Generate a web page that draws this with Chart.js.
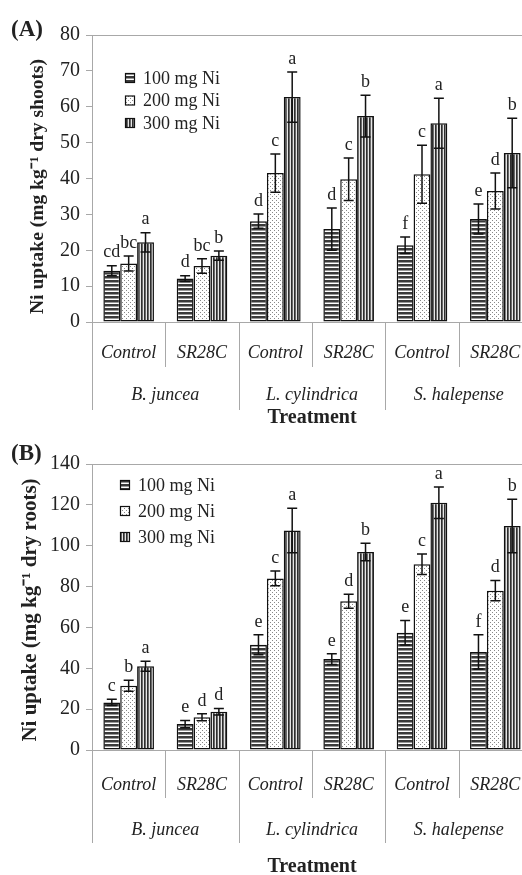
<!DOCTYPE html>
<html>
<head>
<meta charset="utf-8">
<script src="https://cdn.jsdelivr.net/npm/chart.js@4.4.0/dist/chart.umd.min.js"></script>
<style>
  html, body { margin: 0; padding: 0; background: #fff; overflow: hidden; }
  #page { position: relative; width: 522px; height: 875px; overflow: hidden; }
  .panel { position: absolute; left: 0; }
  .panel canvas { display: block; }
  .tag { position: absolute; left: 11px; font: bold 23px "Liberation Serif", serif; color: #222; line-height: 1; }
</style>
</head>
<body>
<div id="page">
  <div class="panel" style="top:0"><canvas id="shoots" width="540" height="435"></canvas></div>
  <div class="panel" style="top:440px"><canvas id="roots" width="540" height="445"></canvas></div>
  <div class="tag" style="top:17px">(A)</div>
  <div class="tag" style="top:441px">(B)</div>
</div>
<script>
// --- data ---
const treatments = ['Control', 'SR28C', 'Control', 'SR28C', 'Control', 'SR28C'];
const species = ['B. juncea', 'L. cylindrica', 'S. halepense'];
const doses = ['100 mg Ni', '200 mg Ni', '300 mg Ni'];

// (A) shoots, mg/kg
const shoots100 = [14.3, 12.1, 28.1, 25.9, 21.4, 28.7];
const shoots200 = [16.3, 15.6, 41.5, 39.8, 41.2, 36.5];
const shoots300 = [22.2, 18.5, 62.7, 57.4, 55.4, 47.1];
const shootsErr100 = [1.4, 0.8, 2.0, 5.9, 2.3, 4.2];
const shootsErr200 = [2.1, 2.0, 5.3, 5.9, 8.1, 5.0];
const shootsErr300 = [2.7, 1.3, 7.0, 5.8, 7.0, 9.7];
const shootsLet100 = ['cd', 'd', 'd', 'd', 'f', 'e'];
const shootsLet200 = ['bc', 'bc', 'c', 'c', 'c', 'd'];
const shootsLet300 = ['a', 'b', 'a', 'b', 'a', 'b'];

// (B) roots, mg/kg
const roots100 = [23.3, 12.7, 51.5, 44.5, 57.4, 48.0];
const roots200 = [31.4, 16.0, 84.0, 72.8, 90.9, 78.0];
const roots300 = [41.0, 18.7, 107.5, 96.9, 121.0, 109.6];
const rootsErr100 = [1.5, 1.8, 4.9, 2.6, 6.0, 8.4];
const rootsErr200 = [2.7, 1.7, 3.6, 3.4, 5.0, 5.0];
const rootsErr300 = [2.4, 1.6, 10.9, 4.3, 7.7, 13.1];
const rootsLet100 = ['c', 'e', 'e', 'e', 'e', 'f'];
const rootsLet200 = ['b', 'd', 'c', 'd', 'c', 'd'];
const rootsLet300 = ['a', 'd', 'a', 'b', 'a', 'b'];

const SERIF = '"Liberation Serif", "Times New Roman", serif';
const INK = '#222';

// hatch fills
function makePattern(w, h, paint) {
  const c = document.createElement('canvas');
  c.width = w; c.height = h;
  const g = c.getContext('2d');
  paint(g);
  return g.createPattern(c, 'repeat');
}
const hStripes = makePattern(1, 4, g => {
  g.fillStyle = '#fff'; g.fillRect(0, 0, 1, 4);
  g.fillStyle = '#3a3a3a'; g.fillRect(0, 0, 1, 2);
  g.fillStyle = '#999'; g.fillRect(0, 2, 1, 1);
});
const dots = makePattern(4, 4, g => {
  g.fillStyle = '#fff'; g.fillRect(0, 0, 4, 4);
  g.fillStyle = '#888'; g.fillRect(0, 0, 1, 1); g.fillRect(2, 2, 1, 1);
});
const vStripes = makePattern(3, 1, g => {
  g.fillStyle = '#2e2e2e'; g.fillRect(0, 0, 1, 1);
  g.fillStyle = '#6a6a6a'; g.fillRect(1, 0, 1, 1);
  g.fillStyle = '#e6e6e6'; g.fillRect(2, 0, 1, 1);
});
const fills = [hStripes, dots, vStripes];

// error bars, letters, frame, group dividers, legend, y title
const extras = {
  id: 'extras',
  beforeDatasetsDraw(chart) {
    const { ctx, chartArea: a } = chart;
    ctx.save();
    ctx.strokeStyle = '#a8a8a8';
    ctx.lineWidth = 1;
    ctx.strokeRect(Math.round(a.left) + 0.5, Math.round(a.top) + 0.5, a.right - a.left, a.bottom - a.top);
    ctx.restore();
  },
  afterDatasetsDraw(chart, args, o) {
    const { ctx } = chart;
    const y = chart.scales.y;
    ctx.save();
    ctx.strokeStyle = '#111';
    ctx.lineWidth = 1.5;
    ctx.fillStyle = INK;
    ctx.font = '18px ' + SERIF;
    ctx.textAlign = 'center';
    ctx.textBaseline = 'middle';
    chart.data.datasets.forEach((ds, i) => {
      chart.getDatasetMeta(i).data.forEach((bar, j) => {
        const v = ds.data[j], e = ds.errors[j];
        const hi = y.getPixelForValue(v + e), lo = y.getPixelForValue(v - e);
        const x = bar.x;
        ctx.beginPath();
        ctx.moveTo(x, hi); ctx.lineTo(x, lo);
        ctx.moveTo(x - 5, hi); ctx.lineTo(x + 5, hi);
        ctx.moveTo(x - 5, lo); ctx.lineTo(x + 5, lo);
        ctx.stroke();
        ctx.fillText(ds.letters[j], x, hi - 13);
      });
    });
    ctx.restore();
  },
  afterDraw(chart, args, o) {
    const { ctx, chartArea: a } = chart;
    const x = chart.scales.x;
    const w = x.getPixelForValue(1) - x.getPixelForValue(0);
    ctx.save();
    ctx.strokeStyle = '#a8a8a8';
    ctx.lineWidth = 1;
    for (let j = 0; j <= treatments.length; j++) {
      const px = Math.round(x.getPixelForValue(j) - w / 2) + 0.5;
      const len = j % 2 === 0 ? o.longDrop : o.shortDrop;
      ctx.beginPath();
      ctx.moveTo(px, a.bottom);
      ctx.lineTo(px, a.bottom + len);
      ctx.stroke();
    }
    ctx.fillStyle = INK;
    ctx.font = 'italic 18px ' + SERIF;
    ctx.textAlign = 'center';
    ctx.textBaseline = 'middle';
    species.forEach((s, k) => {
      const cx = (x.getPixelForValue(2 * k) + x.getPixelForValue(2 * k + 1)) / 2;
      ctx.fillText(s, cx, a.bottom + o.speciesY);
    });
    // legend
    ctx.font = '18px ' + SERIF;
    ctx.textAlign = 'left';
    chart.data.datasets.forEach((ds, i) => {
      const bx = a.left + o.legendX, cy = a.top + o.legendY + i * o.legendGap;
      ctx.fillStyle = ds.backgroundColor;
      ctx.fillRect(bx, cy - 5, 10, 10);
      ctx.strokeStyle = '#111';
      ctx.lineWidth = 1.2;
      ctx.strokeRect(bx + 0.5, cy - 4.5, 9, 9);
      ctx.fillStyle = INK;
      ctx.fillText(ds.label, bx + 18, cy + 1);
    });
    // y axis title (placed by hand, it sits a bit off-centre in the original)
    ctx.translate(o.titleX, o.titleY);
    ctx.rotate(-Math.PI / 2);
    ctx.font = 'bold ' + o.titleSize + 'px ' + SERIF;
    ctx.textAlign = 'center';
    ctx.textBaseline = 'alphabetic';
    ctx.fillText(o.title, 0, 0);
    ctx.restore();
  }
};

function build(id, vals, errs, lets, p) {
  const datasets = doses.map((d, i) => ({
    label: d,
    data: vals[i],
    errors: errs[i],
    letters: lets[i],
    backgroundColor: fills[i],
    borderColor: '#111',
    borderWidth: 1.5,
    borderSkipped: false,
    categoryPercentage: 0.69,
    barPercentage: 1.0
  }));
  return new Chart(document.getElementById(id), {
    type: 'bar',
    data: { labels: treatments, datasets },
    plugins: [extras],
    options: {
      responsive: false,
      animation: false,
      layout: { padding: { top: p.top, right: 8, left: 0, bottom: 0 } },
      plugins: {
        legend: { display: false },
        tooltip: { enabled: false },
        extras: p.extras
      },
      scales: {
        x: {
          grid: { display: false },
          border: { display: false },
          ticks: { color: INK, padding: p.tickPad, font: { family: SERIF, size: 18, style: 'italic' } },
          title: { display: true, text: 'Treatment', color: INK, padding: { top: 0, bottom: p.titleBottom },
                   font: { family: SERIF, size: 20, weight: 'bold' } },
          afterFit: s => { s.height = p.xHeight; }
        },
        y: {
          min: 0, max: p.max,
          grid: { drawOnChartArea: false, drawTicks: true, tickLength: 6, color: '#a8a8a8' },
          border: { display: false },
          ticks: { stepSize: p.step, color: INK, padding: 6, font: { family: SERIF, size: 20 } },
          afterFit: s => { s.width = 92; }
        }
      }
    }
  });
}

build('shoots',
  [shoots100, shoots200, shoots300],
  [shootsErr100, shootsErr200, shootsErr300],
  [shootsLet100, shootsLet200, shootsLet300],
  { top: 35, max: 80, step: 10, tickPad: 12, titleBottom: 5, xHeight: 113,
    extras: { shortDrop: 45, longDrop: 88, speciesY: 73, legendX: 33, legendY: 43, legendGap: 22.5,
              title: 'Ni uptake (mg kg\u207B\u00B9 dry shoots)', titleSize: 19.5, titleX: 43, titleY: 186.5 } });

build('roots',
  [roots100, roots200, roots300],
  [rootsErr100, rootsErr200, rootsErr300],
  [rootsLet100, rootsLet200, rootsLet300],
  { top: 24, max: 140, step: 20, tickPad: 16, titleBottom: 6, xHeight: 135,
    extras: { shortDrop: 48, longDrop: 93, speciesY: 80, legendX: 28, legendY: 21, legendGap: 26,
              title: 'Ni uptake (mg kg\u207B\u00B9 dry roots)', titleSize: 21, titleX: 36, titleY: 170 } });
</script>
</body>
</html>
